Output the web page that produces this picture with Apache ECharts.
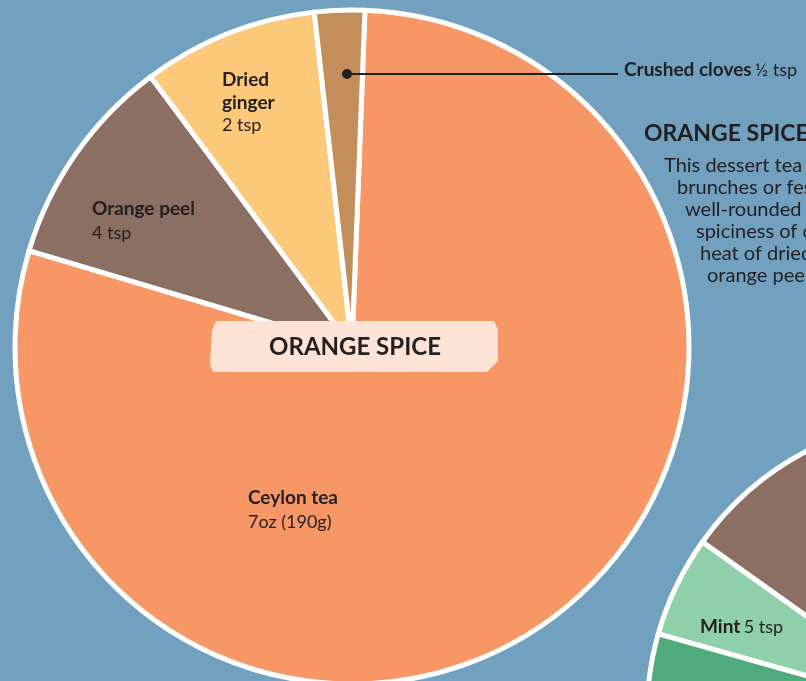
<!DOCTYPE html>
<html><head><meta charset="utf-8">
<script src="https://cdn.jsdelivr.net/npm/echarts@6/dist/echarts.min.js"></script>
<style>html,body{margin:0;padding:0;background:#72a1c0;}#c{width:806px;height:681px;}</style>
</head><body><div id="c"></div>
<script>
// Main pie: Orange Spice (shares)
const categories = ['Ceylon tea', 'Orange peel', 'Dried ginger', 'Crushed cloves'];
const amounts = ['7oz (190g)', '4 tsp', '2 tsp', '½ tsp'];
const shares = [79.0, 10.2, 8.4, 2.4];
const colors = ['#f69765', '#8a6f62', '#fcc97b', '#c38e5a'];
// Second (partially visible) pie
const pie2Categories = ['Brown', 'Mint', 'Green', 'Other'];
const pie2Shares = [54.5, 19.7, 90, 195.8];
const pie2Colors = ['#8a6f62', '#8fd0aa', '#4faa7c', '#4faa7c'];

const FONT = 'Lato';
const dark = '#231f20';
const B = 'bold 19px ' + FONT, R = '18px ' + FONT;
const chart = echarts.init(document.getElementById('c'));
chart.setOption({
  backgroundColor: '#72a1c0',
  animation: false,
  series: [
    {
      type: 'pie', center: [352, 347], radius: 337, startAngle: 87.8, clockwise: true,
      label: { show: false }, labelLine: { show: false }, emphasis: { disabled: true },
      itemStyle: { borderColor: '#ffffff', borderWidth: 5 },
      data: categories.map((c, i) => ({ name: c, value: shares[i], itemStyle: { color: colors[i] } }))
    },
    {
      type: 'pie', center: [945, 715], radius: 298, startAngle: 90, clockwise: false,
      label: { show: false }, labelLine: { show: false }, emphasis: { disabled: true },
      itemStyle: { borderColor: '#ffffff', borderWidth: 5 },
      data: pie2Categories.map((c, i) => ({ name: c, value: pie2Shares[i], itemStyle: { color: pie2Colors[i] } }))
    }
  ],
  graphic: [
    { type: 'polygon', z: 10, shape: { points: [[216, 321], [494, 321], [498, 329], [498, 361], [487, 372], [213, 372], [210, 364], [212, 330]] },
      style: { fill: '#fde3d5' } },
    { type: 'text', z: 11, style: { text: 'ORANGE SPICE', x: 355, y: 347, align: 'center', verticalAlign: 'middle', font: 'bold 24px ' + FONT, fill: dark } },
    // slice labels
    { type: 'text', z: 11, style: { text: '{b|Dried}\n{b|ginger}\n{r|2 tsp}', x: 222, y: 68, rich: { b: { font: B, fill: dark, lineHeight: 23 }, r: { font: R, fill: dark, lineHeight: 23 } } } },
    { type: 'text', z: 11, style: { text: '{b|Orange peel}\n{r|4 tsp}', x: 92, y: 197, rich: { b: { font: B, fill: dark, lineHeight: 24 }, r: { font: R, fill: dark, lineHeight: 24 } } } },
    { type: 'text', z: 11, style: { text: '{b|Ceylon tea}\n{r|7oz (190g)}', x: 248, y: 486, rich: { b: { font: B, fill: dark, lineHeight: 24 }, r: { font: R, fill: dark, lineHeight: 24 } } } },
    // cloves callout
    { type: 'circle', z: 11, shape: { cx: 347, cy: 74, r: 5 }, style: { fill: dark } },
    { type: 'line', z: 11, shape: { x1: 347, y1: 74, x2: 618, y2: 74 }, style: { stroke: dark, lineWidth: 2 } },
    { type: 'text', z: 11, style: { text: '{b|Crushed cloves} {r|½ tsp}', x: 624, y: 70, verticalAlign: 'middle', rich: { b: { font: B, fill: dark }, r: { font: R, fill: dark } } } },
    // right text block
    { type: 'text', z: 11, style: { text: 'ORANGE SPICE', x: 644, y: 134, verticalAlign: 'middle', font: 'bold 23px ' + FONT, fill: dark } },
    { type: 'text', z: 11, style: { text: 'This dessert tea is perfect for', x: 664, y: 166, verticalAlign: 'middle', font: '20px ' + FONT, fill: dark } },
    { type: 'text', z: 11, style: { text: 'brunches or festive', x: 677, y: 188, verticalAlign: 'middle', font: '20px ' + FONT, fill: dark } },
    { type: 'text', z: 11, style: { text: 'well-rounded blend', x: 685, y: 210, verticalAlign: 'middle', font: '20px ' + FONT, fill: dark } },
    { type: 'text', z: 11, style: { text: 'spiciness of cloves', x: 696, y: 232, verticalAlign: 'middle', font: '20px ' + FONT, fill: dark } },
    { type: 'text', z: 11, style: { text: 'heat of dried ginger', x: 700, y: 254, verticalAlign: 'middle', font: '20px ' + FONT, fill: dark } },
    { type: 'text', z: 11, style: { text: 'orange peel', x: 707, y: 276, verticalAlign: 'middle', font: '20px ' + FONT, fill: dark } },
    // second pie label
    { type: 'text', z: 11, style: { text: '{b|Mint} {r|5 tsp}', x: 700, y: 627, verticalAlign: 'middle', rich: { b: { font: B, fill: dark }, r: { font: R, fill: dark } } } }
  ]
});
</script></body></html>
